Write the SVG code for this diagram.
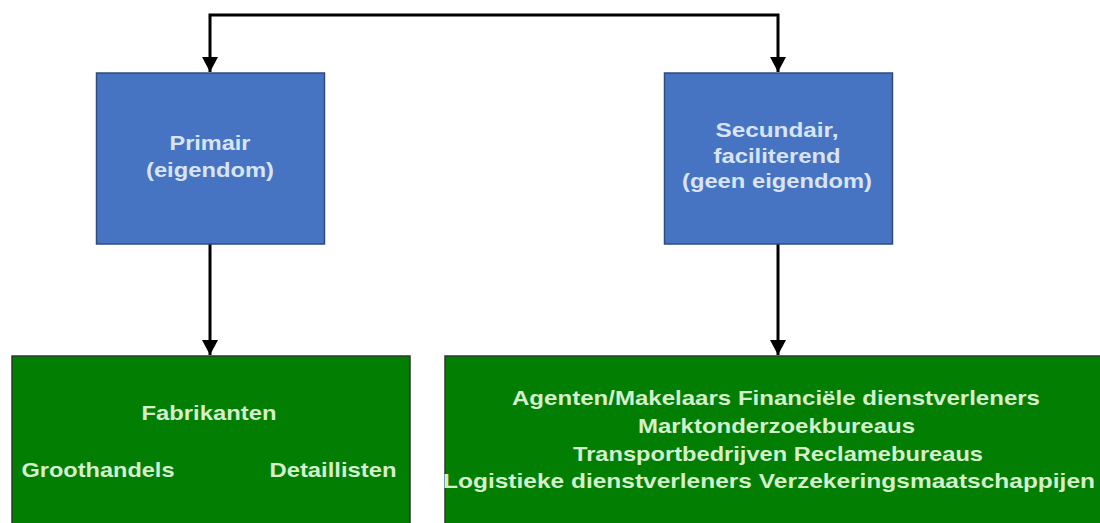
<svg xmlns="http://www.w3.org/2000/svg" width="1100" height="523" viewBox="0 0 1100 523">
  <defs>
    <marker id="arrow" viewBox="0 0 15 16" refX="15" refY="8" markerWidth="15" markerHeight="16" markerUnits="userSpaceOnUse" orient="auto-start-reverse">
      <path d="M0,0 L15,8 L0,16 Z" fill="#000"/>
    </marker>
    <style>
      .blue { fill: #4774c2; stroke: #2e4b7c; stroke-width: 1.5; }
      .green { fill: #027e02; stroke: #2e3a2e; stroke-width: 1.5; }
      .lbl { font-family: "Liberation Sans", Arial, sans-serif; font-weight: bold; font-size: 21px; text-anchor: middle; }
      .onblue { fill: #d8e4f4; }
      .ongreen { fill: #d3efcb; }
      .wire { fill: none; stroke: #000; stroke-width: 3; }
    </style>
  </defs>
  <rect width="1100" height="523" fill="#fff"/>

  <g id="connectors">
    <path class="wire" d="M210,72 V15 H778 V72" marker-start="url(#arrow)" marker-end="url(#arrow)"/>
    <path class="wire" d="M210,243 V355" marker-end="url(#arrow)"/>
    <path class="wire" d="M778,243 V355" marker-end="url(#arrow)"/>
  </g>

  <g id="primair">
    <rect class="blue" x="96.5" y="73" width="228" height="171"/>
    <text class="lbl onblue" x="210" y="150" textLength="81" lengthAdjust="spacingAndGlyphs">Primair</text>
    <text class="lbl onblue" x="210" y="177" textLength="128" lengthAdjust="spacingAndGlyphs">(eigendom)</text>
  </g>

  <g id="secundair">
    <rect class="blue" x="664.5" y="73" width="228" height="171"/>
    <text class="lbl onblue" x="777" y="137" textLength="123" lengthAdjust="spacingAndGlyphs">Secundair,</text>
    <text class="lbl onblue" x="777" y="163" textLength="127" lengthAdjust="spacingAndGlyphs">faciliterend</text>
    <text class="lbl onblue" x="777" y="188" textLength="190" lengthAdjust="spacingAndGlyphs">(geen eigendom)</text>
  </g>

  <g id="primaire-partijen">
    <rect class="green" x="12" y="356" width="398" height="180"/>
    <text class="lbl ongreen" x="209" y="420" textLength="135" lengthAdjust="spacingAndGlyphs">Fabrikanten</text>
    <text class="lbl ongreen" x="98" y="477" textLength="153" lengthAdjust="spacingAndGlyphs">Groothandels</text>
    <text class="lbl ongreen" x="333" y="477" textLength="127" lengthAdjust="spacingAndGlyphs">Detaillisten</text>
  </g>

  <g id="secundaire-partijen">
    <rect class="green" x="445" y="356" width="665" height="180"/>
    <text class="lbl ongreen" x="776" y="405" textLength="528" lengthAdjust="spacingAndGlyphs">Agenten/Makelaars Financiële dienstverleners</text>
    <text class="lbl ongreen" x="776.5" y="433" textLength="277" lengthAdjust="spacingAndGlyphs">Marktonderzoekbureaus</text>
    <text class="lbl ongreen" x="778" y="461" textLength="410" lengthAdjust="spacingAndGlyphs">Transportbedrijven Reclamebureaus</text>
    <text class="lbl ongreen" x="769" y="488" textLength="652" lengthAdjust="spacingAndGlyphs">Logistieke dienstverleners Verzekeringsmaatschappijen</text>
  </g>
</svg>
